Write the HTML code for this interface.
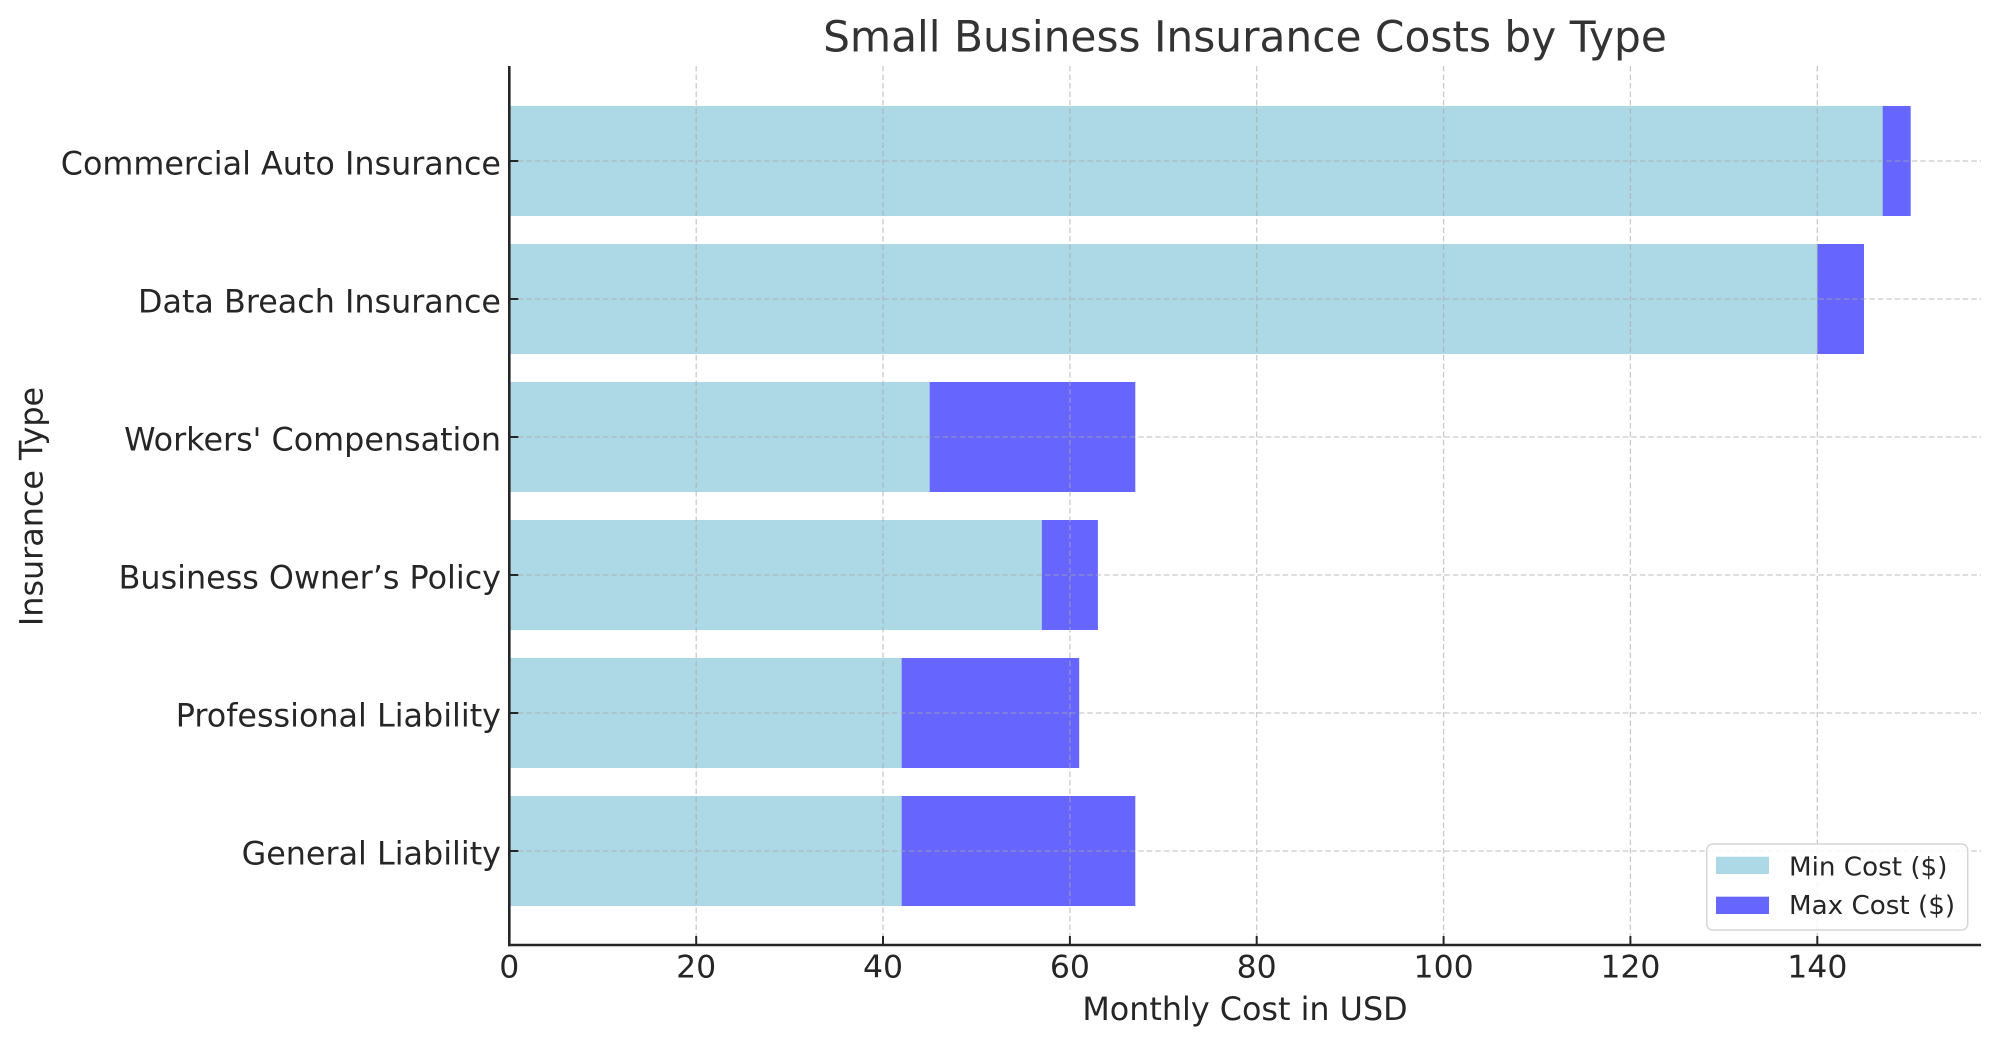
<!DOCTYPE html>
<html>
<head>
<meta charset="utf-8">
<style>
  html, body { margin: 0; padding: 0; background: #ffffff; }
  body { width: 1999px; height: 1046px; overflow: hidden; }
  svg { display: block; }
  text { font-family: "DejaVu Sans", "Liberation Sans", sans-serif; fill: #262626; }
</style>
</head>
<body>
<svg width="1999" height="1046" viewBox="0 0 1999 1046" xmlns="http://www.w3.org/2000/svg">
  <rect x="0" y="0" width="1999" height="1046" fill="#ffffff"/>

  <!-- Bars: max (dark) behind, min (light) on top -->
  <rect x="509.3" y="106" width="1401.4" height="110" fill="#6666ff"/>
  <rect x="509.3" y="106" width="1373.4" height="110" fill="#add8e6"/>
  <rect x="509.3" y="244" width="1354.7" height="110" fill="#6666ff"/>
  <rect x="509.3" y="244" width="1308.0" height="110" fill="#add8e6"/>
  <rect x="509.3" y="382" width="626.0" height="110" fill="#6666ff"/>
  <rect x="509.3" y="382" width="420.4" height="110" fill="#add8e6"/>
  <rect x="509.3" y="520" width="588.6" height="110" fill="#6666ff"/>
  <rect x="509.3" y="520" width="532.6" height="110" fill="#add8e6"/>
  <rect x="509.3" y="658" width="569.9" height="110" fill="#6666ff"/>
  <rect x="509.3" y="658" width="392.4" height="110" fill="#add8e6"/>
  <rect x="509.3" y="796" width="626.0" height="110" fill="#6666ff"/>
  <rect x="509.3" y="796" width="392.4" height="110" fill="#add8e6"/>

  <!-- Grid lines (drawn above bars) -->
  <g stroke="#a8a8a8" stroke-opacity="0.6" stroke-width="1.3" stroke-dasharray="5.5,3" fill="none">
    <line x1="696.2" y1="66" x2="696.2" y2="945"/>
    <line x1="883.0" y1="66" x2="883.0" y2="945"/>
    <line x1="1069.9" y1="66" x2="1069.9" y2="945"/>
    <line x1="1256.7" y1="66" x2="1256.7" y2="945"/>
    <line x1="1443.6" y1="66" x2="1443.6" y2="945"/>
    <line x1="1630.4" y1="66" x2="1630.4" y2="945"/>
    <line x1="1817.3" y1="66" x2="1817.3" y2="945"/>
    <line x1="509.3" y1="161" x2="1981" y2="161"/>
    <line x1="509.3" y1="299" x2="1981" y2="299"/>
    <line x1="509.3" y1="437" x2="1981" y2="437"/>
    <line x1="509.3" y1="575" x2="1981" y2="575"/>
    <line x1="509.3" y1="713" x2="1981" y2="713"/>
    <line x1="509.3" y1="851" x2="1981" y2="851"/>
  </g>

  <!-- Spines -->
  <g stroke="#262626" stroke-width="2.6" fill="none">
    <line x1="509.3" y1="66" x2="509.3" y2="946.3"/>
    <line x1="508" y1="945" x2="1981" y2="945"/>
  </g>

  <!-- Ticks (inward) -->
  <g stroke="#262626" stroke-width="2" fill="none">
    <line x1="509.3" y1="945" x2="509.3" y2="936"/>
    <line x1="696.2" y1="945" x2="696.2" y2="936"/>
    <line x1="883.0" y1="945" x2="883.0" y2="936"/>
    <line x1="1069.9" y1="945" x2="1069.9" y2="936"/>
    <line x1="1256.7" y1="945" x2="1256.7" y2="936"/>
    <line x1="1443.6" y1="945" x2="1443.6" y2="936"/>
    <line x1="1630.4" y1="945" x2="1630.4" y2="936"/>
    <line x1="1817.3" y1="945" x2="1817.3" y2="936"/>
    <line x1="509.3" y1="161" x2="518.3" y2="161"/>
    <line x1="509.3" y1="299" x2="518.3" y2="299"/>
    <line x1="509.3" y1="437" x2="518.3" y2="437"/>
    <line x1="509.3" y1="575" x2="518.3" y2="575"/>
    <line x1="509.3" y1="713" x2="518.3" y2="713"/>
    <line x1="509.3" y1="851" x2="518.3" y2="851"/>
  </g>

  <!-- X tick labels -->
  <g font-size="31.5" text-anchor="middle">
    <text x="509.3" y="977.5">0</text>
    <text x="696.2" y="977.5">20</text>
    <text x="883.0" y="977.5">40</text>
    <text x="1069.9" y="977.5">60</text>
    <text x="1256.7" y="977.5">80</text>
    <text x="1443.6" y="977.5">100</text>
    <text x="1630.4" y="977.5">120</text>
    <text x="1817.3" y="977.5">140</text>
  </g>

  <!-- Y tick labels -->
  <g font-size="31.8" text-anchor="end">
    <text x="501" y="174.5">Commercial Auto Insurance</text>
    <text x="501" y="312.5">Data Breach Insurance</text>
    <text x="501" y="450.5">Workers' Compensation</text>
    <text x="501" y="588.5">Business Owner’s Policy</text>
    <text x="501" y="726.5">Professional Liability</text>
    <text x="501" y="864.5">General Liability</text>
  </g>

  <!-- Axis labels -->
  <text x="1245" y="1020" font-size="31.8" text-anchor="middle">Monthly Cost in USD</text>
  <text transform="translate(42.7,506.5) rotate(-90)" font-size="31.8" text-anchor="middle">Insurance Type</text>

  <!-- Title -->
  <text x="1245" y="51.5" font-size="42.3" text-anchor="middle" style="fill:#333333">Small Business Insurance Costs by Type</text>

  <!-- Legend -->
  <rect x="1706.7" y="844" width="261" height="86" rx="6" ry="6" fill="#ffffff" fill-opacity="0.85" stroke="#d6d6d6" stroke-width="1.5"/>
  <rect x="1716" y="856.7" width="53" height="17.3" fill="#add8e6"/>
  <rect x="1716" y="896.7" width="53" height="17.3" fill="#6666ff"/>
  <g font-size="26.2">
    <text x="1789" y="875.5">Min Cost ($)</text>
    <text x="1789" y="914">Max Cost ($)</text>
  </g>
</svg>
</body>
</html>
